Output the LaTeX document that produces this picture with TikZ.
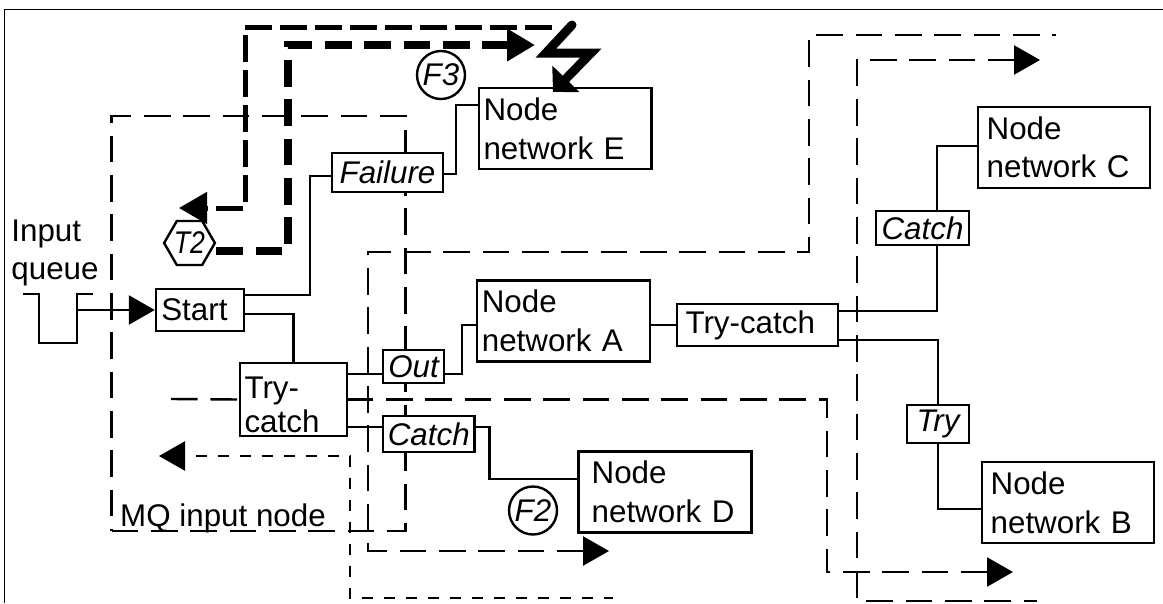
\documentclass[tikz,border=0pt]{standalone}
\usepackage{fontspec}
\setmainfont{Liberation Sans}
\usepackage{tikz}
\usetikzlibrary{arrows.meta, shapes.geometric, calc}

\begin{document}
\begin{tikzpicture}[
    x=0.75pt, y=-0.75pt,
    line width=1.8pt,
    label/.style={font=\fontsize{23.5}{29}\selectfont, align=left, inner sep=0pt},
    block/.style 2 args={draw, fill=white, label, text width=#1-2*#2, inner xsep=#2},
    net/.style 2 args={block={#1}{#2}, minimum height=60.75pt},
    tag/.style={draw, fill=white, font=\fontsize{23.5}{29}\selectfont\itshape, inner sep=0pt},
    badge/.style={tag, circle, minimum size=36pt},
    arr/.style={-{Triangle[length=19.5pt, width=21.75pt]}},
    rarr/.style={{Triangle[length=19.5pt, width=21.75pt]}-},
    longdash/.style={dash pattern=on 20pt off 9.5pt},
    shortdash/.style={dash pattern=on 8.5pt off 8pt},
    bolt/.style={line width=6.75pt, line cap=round, line join=miter,
        -{Triangle[length=13.8pt, width=27.6pt]}}
]
    % frame, open at right and bottom
    \useasboundingbox (0,0) rectangle (1163,603);
    \coordinate (frameA) at (4.5,603);
    \coordinate (frameB) at (4.5,9.5);
    \coordinate (frameC) at (1163,9.5);
    \draw[line width=1.1pt] (frameA) -- (frameB) -- (frameC);

    % input node outline
    \node[draw, longdash, minimum width=220.5pt, minimum height=311.25pt, inner sep=0pt] (mq) at (258.5,323.5) {};
    \node[label, anchor=base] (mqlabel) at (223,526) {MQ input node};

    % flow nodes
    \node[label] (input) at (55,253) {Input\\queue};
    \node[block={66pt}{4pt}, minimum height=31.5pt] (start) at (200,310) {Start};
    \node[block={80.25pt}{3.4pt}, minimum height=54.75pt, font=\fontsize{23.5}{26}\selectfont] (trycatch) at (293.5,399.5) {\rule{0pt}{24pt}Try-\\catch};
    \node[tag, minimum width=83.25pt, minimum height=29.25pt] (failure) at (387.5,172.5) {Failure};
    \node[tag, minimum width=45.75pt, minimum height=24.75pt] (out) at (413.5,366.5) {Out};
    \node[tag, minimum width=68.6pt, minimum height=27pt] (catchl) at (428.75,434) {Catch};
    \node[net={129.5pt}{3.4pt}] (nete) at (565.3,128.5) {Node\\network E};
    \node[net={129.5pt}{3.5pt}] (neta) at (563.5,321) {Node\\network A};
    \node[net={130pt}{10pt}] (netd) at (665,492) {Node\\network D};
    \node[block={120.75pt}{6.4pt}, minimum height=31.5pt] (tryh) at (757.5,325) {Try-catch};
    \node[tag, minimum width=69.75pt, minimum height=25.5pt] (catchr) at (922.5,228) {Catch};
    \node[tag, minimum width=46.5pt, minimum height=28.5pt] (try) at (938,424) {Try};
    \node[net={129pt}{6.5pt}] (netc) at (1064,147.25) {Node\\network C};
    \node[net={129pt}{6.5pt}] (netb) at (1068,502.5) {Node\\network B};
    \node[badge] (f3) at (441,75) {F3};
    \node[badge] (f2) at (533,510.5) {F2};
    \node[tag, regular polygon, regular polygon sides=6, minimum size=36.75pt] (t2) at (189.5,243) {\scalebox{0.85}[1]{T2}};

    % queue symbol and entry
    \coordinate (qa) at (23,294);
    \coordinate (qb) at (93,294);
    \draw (qa) -- (39,294) -- (39,343) -- (77,343) -- (77,294) -- (qb);
    \draw[arr] (77,310) -- (start.west);

    % solid wires
    \draw (start.east |- 0,295) -| (310,176) -- (failure.west |- 0,176);
    \draw (failure.east |- 0,174) -| (456,105) -- (nete.west |- 0,105);
    \draw (start.east |- 0,314) -| (trycatch.north);
    \draw (trycatch.east |- 0,374) -- (out.west |- 0,374);
    \draw (out.east |- 0,374) -| (462,325) -- (neta.west |- 0,325);
    \draw (trycatch.east |- 0,427) -- (catchl.west |- 0,427);
    \draw (catchl.east |- 0,427) -| (489.5,479) -- (netd.west |- 0,479);
    \draw (neta.east |- 0,325) -- (tryh.west |- 0,325);
    \draw (tryh.east |- 0,311) -| (catchr.south -| 937,0);
    \draw (catchr.north -| 937,0) |- (netc.west |- 0,146);
    \draw (tryh.east |- 0,340) -| (try.north);
    \draw (try.south) |- (netb.west |- 0,509);

    % dashed flows
    \coordinate (fa) at (609,551);
    \coordinate (fb) at (1056,35);
    \draw[rarr, longdash] (fa) -- (368,551) |- (809,252) |- (fb);
    \coordinate (fc) at (171,399);
    \coordinate (fd) at (1013,572);
    \draw[longdash] (fc) -- (trycatch.west);
    \draw[rarr, longdash] (fd) -- (827,572) |- (trycatch.east);
    \coordinate (fe) at (1040,60);
    \coordinate (ff) at (1037,601);
    \draw[rarr, longdash] (fe) -- (857,60) |- (ff);
    \coordinate (fg) at (159,456);
    \coordinate (fh) at (613,598);
    \draw[rarr, shortdash, dash phase=8pt] (fg) -- (350,456) |- (fh);

    % heavy flows
    \coordinate (ha) at (552,27);
    \coordinate (hb) at (179,208);
    \draw[line width=3.75pt, dash pattern=on 20pt off 6.25pt, -{Triangle[length=21pt, width=23.25pt]}] (ha) -- (245,27) |- (hb);
    \coordinate (hc) at (535,45);
    \draw[line width=5.75pt, dash pattern=on 20pt off 9.5pt, -{Triangle[length=21pt, width=23.25pt]}] (t2.east |- 0,251) -- (288,251) |- (hc);

    % lightning into node network E
    \coordinate (ba) at (572,25);
    \coordinate (strike) at (553,92);
    \draw[bolt] (ba) -- (546,53) -- (591,53) -- (strike);
\end{tikzpicture}
\end{document}
